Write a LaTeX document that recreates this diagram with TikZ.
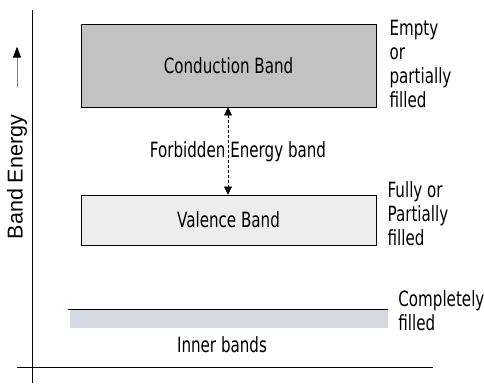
\documentclass[tikz,border=0pt]{standalone}
\usepackage{fontspec}
\setmainfont{DejaVu Sans}[FakeStretch=0.72]
\newfontfamily\axisfont{Liberation Sans}
\usepackage{xcolor}
\usepackage{tikz}
\usetikzlibrary{arrows.meta,positioning,calc}

\definecolor{cbgray}{HTML}{C2C2C2}
\definecolor{vbgray}{HTML}{EDEDED}
\definecolor{ibgray}{HTML}{D5D9E2}

\tikzset{
    labelfont/.style={font=\fontsize{21}{24}\selectfont},
    band/.style={draw=black,thick,minimum width=295pt,inner sep=0pt,labelfont},
    side/.style={align=left,inner sep=0pt,labelfont},
    gaparrow/.style={{Triangle[length=8pt,width=8pt]}-{Triangle[length=8pt,width=8pt]},densely dashed,thin}
}

\begin{document}
\begin{tikzpicture}[x=1pt,y=-1pt]
    \useasboundingbox (0,0) rectangle (484,383);

    % Draw the axes
    \coordinate (ytop) at (32,10);
    \coordinate (ybot) at (32,383);
    \coordinate (xleft) at (17,367);
    \coordinate (xright) at (433,367);
    \draw[thick] (ybot) -- (ytop);
    \draw[thick] (xleft) -- (xright);

    % Axis label
    \node[rotate=90,inner sep=0pt,font=\axisfont\fontsize{21.5}{24}\selectfont] (energy) at (17,177) {Band Energy};
    \draw[-{Triangle[length=11pt,width=8pt,black]},gray,thick] ($(energy.east)+(0,-28)$) -- ($(energy.east)+(0,-68)$);

    % Draw the bands
    \node[band,fill=cbgray,minimum height=83pt] (cb) at (228.5,65.5) {Conduction Band};
    \node[band,fill=vbgray,minimum height=50pt] (vb) at (228.5,220) {Valence Band};
    \node[fill=ibgray,minimum width=318pt,minimum height=18pt,inner sep=0pt] (ib) at (229,319) {};
    \draw[thick] ([xshift=-2pt]ib.north west) -- (ib.north east);

    % Forbidden gap
    \draw[gaparrow] (cb.south -| 228,0) -- (vb.north -| 228,0);
    \node[labelfont,inner sep=0pt] (gap) at (238,152) {Forbidden Energy band};

    % Inner band label
    \node[below=8pt of ib,inner sep=0pt,labelfont,xshift=-7pt] (inner) {Inner bands};

    % Filling labels
    \node[side,right=13pt of cb,yshift=2pt] (cbfill) {Empty\\or\\partially\\filled};
    \node[side,right=11pt of vb,yshift=6pt] (vbfill) {Fully or\\Partially\\filled};
    \node[side,right=10pt of ib,yshift=8pt] (ibfill) {Completely\\filled};
\end{tikzpicture}
\end{document}
